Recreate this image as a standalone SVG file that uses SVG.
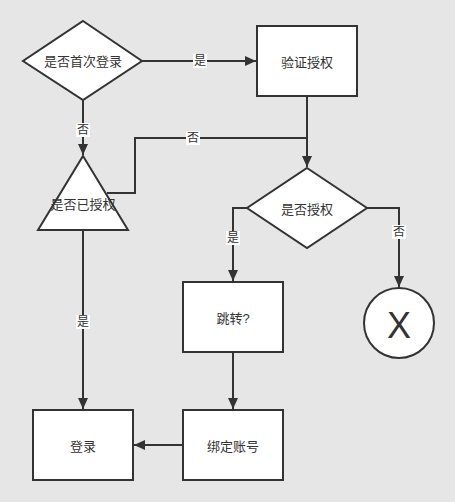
<svg xmlns="http://www.w3.org/2000/svg" width="455" height="502" viewBox="0 0 455 502">
<style>
.shape{fill:#fff;stroke:#333;stroke-width:2}
.edge{fill:none;stroke:#333;stroke-width:2}
.t{font-family:"Liberation Sans","Noto Sans CJK SC",sans-serif;font-size:13px;fill:#333;text-anchor:middle;dominant-baseline:central}
.lbl{font-family:"Liberation Sans","Noto Sans CJK SC",sans-serif;font-size:12px;fill:#333;text-anchor:middle;dominant-baseline:central}
.lb{fill:#fff}
</style>
<defs>
<marker id="arr" markerUnits="userSpaceOnUse" markerWidth="12" markerHeight="12" viewBox="0 0 12 12" refX="11" refY="6" orient="auto">
<path d="M0,1 L11,6 L0,11 Z" fill="#333"/>
</marker>
</defs>
<rect width="455" height="502" fill="#e6e6e6"/>
<g id="connectors">
<path class="edge" d="M142,61 L256,61" marker-end="url(#arr)"/>
<path class="edge" d="M83,100 L83,155" marker-end="url(#arr)"/>
<path class="edge" d="M307,96 L307,167" marker-end="url(#arr)"/>
<path class="edge" d="M107,193 L135,193 L135,138 L307,138"/>
<path class="edge" d="M247,208 L233,208 L233,281" marker-end="url(#arr)"/>
<path class="edge" d="M367,208 L399,208 L399,287" marker-end="url(#arr)"/>
<path class="edge" d="M233,352 L233,409" marker-end="url(#arr)"/>
<path class="edge" d="M83,230 L83,409" marker-end="url(#arr)"/>
<path class="edge" d="M183,445 L134,445" marker-end="url(#arr)"/>
<rect class="lb" x="193" y="54" width="14" height="14"/>
<text class="lbl" x="200" y="61">是</text>
<rect class="lb" x="76" y="123" width="14" height="14"/>
<text class="lbl" x="83" y="130">否</text>
<rect class="lb" x="186" y="131" width="14" height="14"/>
<text class="lbl" x="193" y="138">否</text>
<rect class="lb" x="226" y="231" width="14" height="14"/>
<text class="lbl" x="233" y="238">是</text>
<rect class="lb" x="392" y="225" width="14" height="14"/>
<text class="lbl" x="399" y="232">否</text>
<rect class="lb" x="76" y="315" width="14" height="14"/>
<text class="lbl" x="83" y="322">是</text>
</g>
<g id="n-first-login">
<polygon class="shape" points="83,21 142,61 83,100 23,61"/>
<text class="t" x="83" y="61">是否首次登录</text>
</g>
<g id="n-verify">
<rect class="shape" x="257" y="26" width="100" height="70"/>
<text class="t" x="307" y="62">验证授权</text>
</g>
<g id="n-authorized">
<polygon class="shape" points="83,156 128,230 38,230"/>
<text class="t" x="83" y="204">是否已授权</text>
</g>
<g id="n-auth">
<polygon class="shape" points="307,168 367,208 307,248 247,208"/>
<text class="t" x="307" y="209">是否授权</text>
</g>
<g id="n-jump">
<rect class="shape" x="183" y="282" width="100" height="70"/>
<text class="t" x="233" y="318">跳转?</text>
</g>
<g id="n-x">
<circle class="shape" cx="399" cy="323" r="35"/>
<text class="t" x="399" y="325" style="font-size:36px">X</text>
</g>
<g id="n-bind">
<rect class="shape" x="183" y="410" width="100" height="70"/>
<text class="t" x="233" y="446">绑定账号</text>
</g>
<g id="n-login">
<rect class="shape" x="33" y="410" width="100" height="70"/>
<text class="t" x="83" y="446">登录</text>
</g>
</svg>
